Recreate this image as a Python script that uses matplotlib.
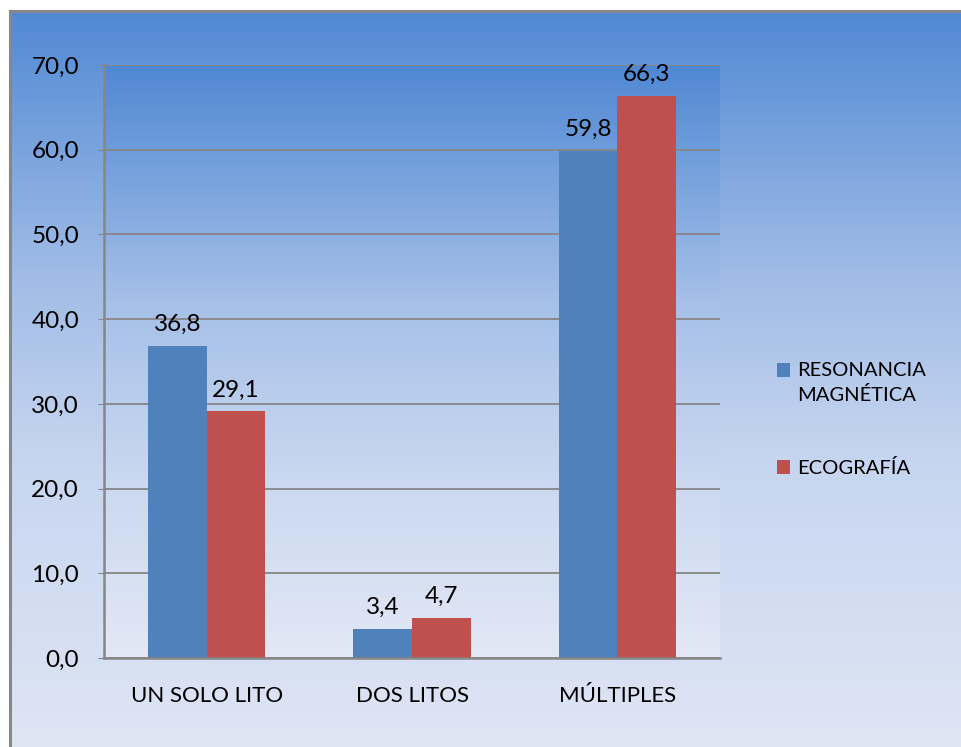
import numpy as np
import matplotlib
matplotlib.use("Agg")
import matplotlib.pyplot as plt
from matplotlib.colors import LinearSegmentedColormap
from matplotlib.patches import Rectangle
from matplotlib.lines import Line2D
from matplotlib.ticker import FuncFormatter

plt.rcParams['font.family'] = ['Lato', 'DejaVu Sans']

# data
categories = ["UN SOLO LITO", "DOS LITOS", "MÚLTIPLES"]
series_names = ["RESONANCIA\nMAGNÉTICA", "ECOGRAFÍA"]
resonancia = [36.8, 3.4, 59.8]
ecografia = [29.1, 4.7, 66.3]
series_colors = ["#4F81BD", "#C0504D"]

W, H = 962, 747
fig = plt.figure(figsize=(W / 100, H / 100), dpi=100)
fig.patch.set_facecolor("white")

# background gradient of the chart area (Excel style)
bg_cmap = LinearSegmentedColormap.from_list(
    "bg", [(0.0, "#5089D4"), (0.35, "#9FBBE6"), (0.6, "#C6D5EF"), (1.0, "#DFE6F4")])
bg = fig.add_axes([10 / W, -0.01, 1.02 - 10 / W, 1.01 - 11 / H], zorder=-5)
bg.imshow(np.linspace(0, 1, 256).reshape(-1, 1), cmap=bg_cmap, aspect="auto",
          extent=[0, 1, 1, 0], interpolation="bilinear")
bg.set_axis_off()

# gray border (only top and left are visible)
fig.add_artist(Line2D([10 / W, 10 / W], [0, 1 - 11 / H], color="#878787", lw=2.2))
fig.add_artist(Line2D([10 / W, 1.01], [1 - 11 / H, 1 - 11 / H], color="#878787", lw=2.2))

ax = fig.add_axes([104 / W, 1 - 658 / H, (720 - 104) / W, (658 - 65) / H])
ax.set_facecolor("none")
pa_cmap = LinearSegmentedColormap.from_list(
    "pa", [(0.0, "#4F88D3"), (0.4, "#A6C0E8"), (0.7, "#CAD8F0"), (1.0, "#E2E8F5")])
ax.imshow(np.linspace(0, 1, 256).reshape(-1, 1), cmap=pa_cmap, aspect="auto",
          extent=[0, 1, 0, 1], transform=ax.transAxes, zorder=0)

x = np.arange(len(categories))
bw = 1 / 3.5
b1 = ax.bar(x - bw / 2, resonancia, bw, color=series_colors[0], zorder=3)
b2 = ax.bar(x + bw / 2, ecografia, bw, color=series_colors[1], zorder=3)

fmt = lambda v: f"{v:.1f}".replace(".", ",")
ax.bar_label(b1, labels=[fmt(v) for v in resonancia], padding=8, fontsize=17.5)
ax.bar_label(b2, labels=[fmt(v) for v in ecografia], padding=8, fontsize=17.5)

ax.set_xlim(-0.5, len(categories) - 0.5)
ax.set_ylim(0, 70)
ax.set_yticks(np.arange(0, 71, 10))
ax.yaxis.set_major_formatter(FuncFormatter(lambda v, p: fmt(v)))
ax.set_xticks(x)
ax.set_xticklabels(categories)
ax.yaxis.grid(True, color="#868686", lw=1.3, zorder=1)
ax.set_axisbelow(True)

for s in ["top", "right"]:
    ax.spines[s].set_visible(False)
for s in ["left", "bottom"]:
    ax.spines[s].set_color("#868686")
    ax.spines[s].set_linewidth(1.8)
    ax.spines[s].set_zorder(4)

ax.tick_params(axis="y", length=4, color="#868686", pad=14, labelsize=17.5)
ax.tick_params(axis="x", length=0, pad=20, labelsize=16)

# legend
leg_y = [370, 467]
for name, color, y in zip(series_names, series_colors, leg_y):
    fig.add_artist(Rectangle((777 / W, 1 - (y + 7) / H), 13 / W, 14 / H,
                             facecolor=color, edgecolor="none", transform=fig.transFigure))
    fig.text(797 / W, 1 - (y - 8) / H, name, fontsize=14.5, va="top", ha="left",
             linespacing=1.45)

fig.savefig("out.png", dpi=100)
